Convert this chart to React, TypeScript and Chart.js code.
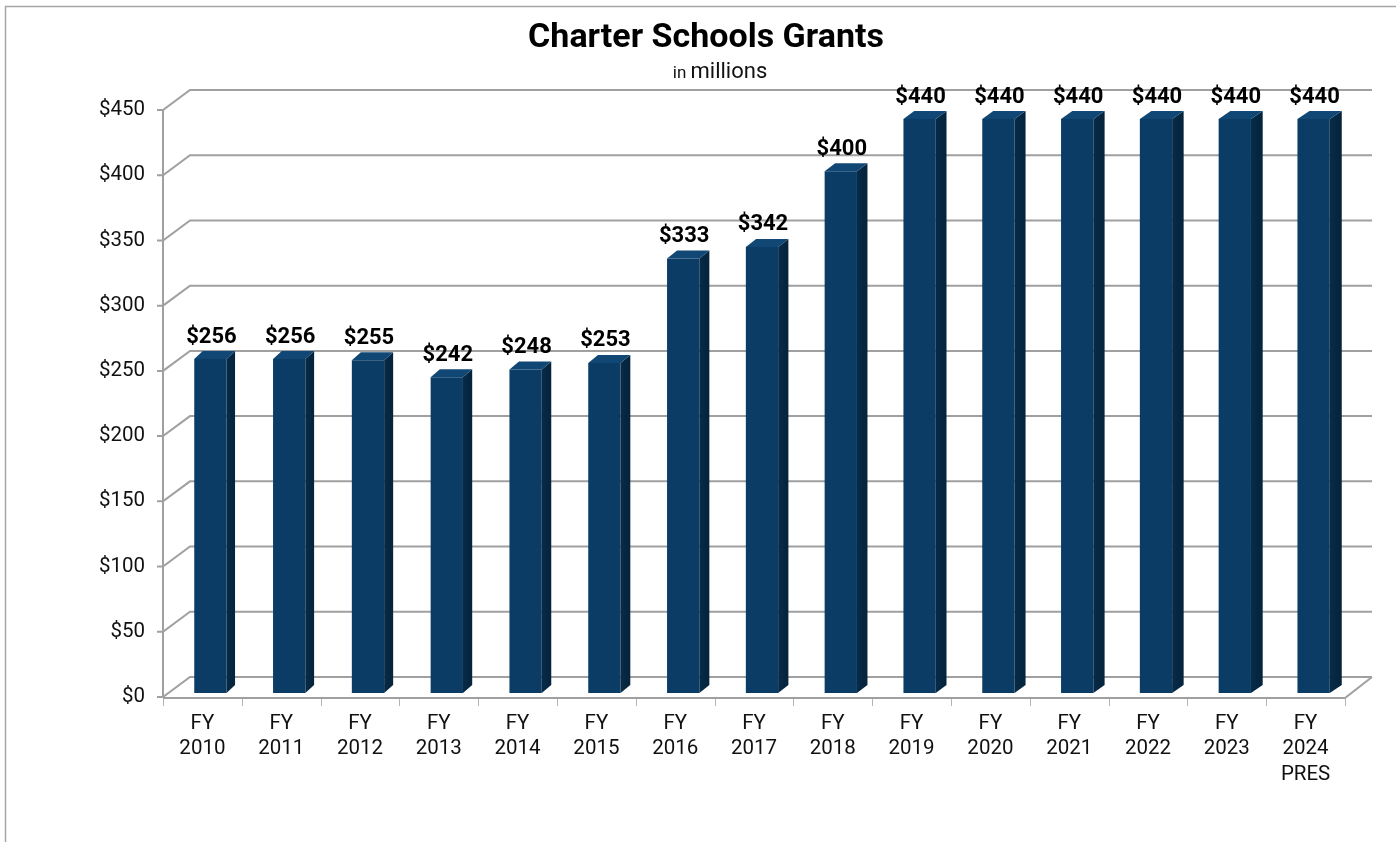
import React, { useEffect, useRef } from 'react';
import { Chart, registerables } from 'chart.js';

Chart.register(...registerables);

const categories: string[][] = [
  ['FY', '2010'], ['FY', '2011'], ['FY', '2012'], ['FY', '2013'], ['FY', '2014'],
  ['FY', '2015'], ['FY', '2016'], ['FY', '2017'], ['FY', '2018'], ['FY', '2019'],
  ['FY', '2020'], ['FY', '2021'], ['FY', '2022'], ['FY', '2023'], ['FY', '2024', 'PRES'],
];
const grants: number[] = [256, 256, 255, 242, 248, 253, 333, 342, 400, 440, 440, 440, 440, 440, 440];
const yTickValues: number[] = [0, 50, 100, 150, 200, 250, 300, 350, 400, 450];
const titleText = 'Charter Schools Grants';
const subtitleSmall = 'in';
const subtitleLarge = 'millions';

const W = 1396;
const H = 842;
const BACK_DX = 27;
const BACK_DY = -20;
const BAR_DX = 8;
const BAR_DY = -4;
const GRID = '#a0a0a0';
const FRONT = '#0b3c66';
const SIDE = '#05233b';
const TOP = '#104774';
const FONT = 'Roboto, "Liberation Sans", Arial, sans-serif';

function sideDx(i: number, n: number) {
  return 8.5 + (3.5 * i) / Math.max(1, n - 1);
}
const SIDE_DY = -8;

const threeD = {
  id: 'threeD',
  beforeDraw(chart: any) {
    const ctx = chart.ctx;
    ctx.save();
    ctx.fillStyle = '#ffffff';
    ctx.fillRect(0, 0, W, H);
    // frame
    ctx.strokeStyle = '#a6a6a6';
    ctx.lineWidth = 1.5;
    ctx.beginPath();
    ctx.moveTo(5.5, H);
    ctx.lineTo(5.5, 6.5);
    ctx.lineTo(W, 6.5);
    ctx.stroke();
    // title
    ctx.fillStyle = '#000000';
    ctx.textAlign = 'center';
    ctx.textBaseline = 'alphabetic';
    ctx.font = `bold 34px ${FONT}`;
    ctx.fillText(titleText, 706, 47);
    // subtitle
    ctx.font = `17px ${FONT}`;
    const wSmall = ctx.measureText(subtitleSmall + ' ').width;
    ctx.font = `22px ${FONT}`;
    const wLarge = ctx.measureText(subtitleLarge).width;
    const start = 720 - (wSmall + wLarge) / 2;
    ctx.textAlign = 'left';
    ctx.fillStyle = '#111111';
    ctx.font = `17px ${FONT}`;
    ctx.fillText(subtitleSmall, start, 78);
    ctx.font = `22px ${FONT}`;
    ctx.fillText(subtitleLarge, start + wSmall, 78);
    ctx.restore();
  },
  beforeDatasetsDraw(chart: any) {
    const ctx = chart.ctx;
    const { left, right, top, bottom } = chart.chartArea;
    const y = chart.scales.y;
    const x = chart.scales.x;
    ctx.save();
    ctx.strokeStyle = GRID;
    ctx.lineWidth = 2;
    ctx.lineCap = 'butt';
    ctx.beginPath();
    yTickValues.forEach((v) => {
      const yf = y.getPixelForValue(v);
      ctx.moveTo(left - 6, yf);
      ctx.lineTo(left, yf);
      ctx.lineTo(left + BACK_DX, yf + BACK_DY);
      ctx.lineTo(right + BACK_DX, yf + BACK_DY);
    });
    // front left vertical edge
    ctx.moveTo(left, top);
    ctx.lineTo(left, bottom);
    // floor front edge and right edge
    ctx.moveTo(left, bottom + 1);
    ctx.lineTo(right, bottom + 1);
    ctx.lineTo(right + BACK_DX, bottom + BACK_DY);
    ctx.stroke();
    // category tick marks
    ctx.lineWidth = 1;
    ctx.strokeStyle = '#b5b5b5';
    ctx.beginPath();
    const n = categories.length;
    const step = (right - left) / n;
    for (let k = 0; k <= n; k++) {
      const xx = Math.round(x.left + step * k) + 0.5;
      ctx.moveTo(xx, bottom + 2);
      ctx.lineTo(xx, bottom + 9);
    }
    ctx.stroke();
    ctx.restore();
    ctx.save();
    ctx.translate(BAR_DX, BAR_DY);
  },
  afterDatasetsDraw(chart: any) {
    const ctx = chart.ctx;
    const meta = chart.getDatasetMeta(0);
    const n = meta.data.length;
    meta.data.forEach((bar: any, i: number) => {
      const p = bar.getProps(['x', 'y', 'base', 'width'], true);
      const l = p.x - p.width / 2;
      const r = p.x + p.width / 2;
      const sdx = sideDx(i, n);
      // side face
      const g = ctx.createLinearGradient(r, 0, r + sdx, 0);
      g.addColorStop(0, '#072b48');
      g.addColorStop(1, SIDE);
      ctx.fillStyle = g;
      ctx.beginPath();
      ctx.moveTo(r, p.y);
      ctx.lineTo(r + sdx, p.y + SIDE_DY);
      ctx.lineTo(r + sdx, p.base + SIDE_DY);
      ctx.lineTo(r, p.base);
      ctx.closePath();
      ctx.fill();
      // top face
      ctx.fillStyle = TOP;
      ctx.beginPath();
      ctx.moveTo(l, p.y);
      ctx.lineTo(l + sdx, p.y + SIDE_DY);
      ctx.lineTo(r + sdx, p.y + SIDE_DY);
      ctx.lineTo(r, p.y);
      ctx.closePath();
      ctx.fill();
    });
    ctx.restore();
    // data labels
    ctx.save();
    ctx.fillStyle = '#000000';
    ctx.textAlign = 'center';
    ctx.textBaseline = 'middle';
    ctx.font = `bold 22px ${FONT}`;
    meta.data.forEach((bar: any, i: number) => {
      const p = bar.getProps(['x', 'y'], true);
      const v = chart.data.datasets[0].data[i];
      ctx.fillText('$' + v, p.x + BAR_DX + 1, p.y + BAR_DY + SIDE_DY - 14);
    });
    ctx.restore();
  },
};

export default function App() {
  const ref = useRef<HTMLCanvasElement | null>(null);
  useEffect(() => {
    if (!ref.current) return;
    const chart = new Chart(ref.current, {
      type: 'bar',
      data: {
        labels: categories,
        datasets: [
          {
            data: grants,
            backgroundColor: FRONT,
            borderWidth: 0,
            barPercentage: 0.41,
            categoryPercentage: 1,
          },
        ],
      },
      options: {
        responsive: false,
        animation: false,
        devicePixelRatio: 1,
        layout: { padding: { top: 110, right: 51, bottom: 0, left: 0 } },
        plugins: {
          legend: { display: false },
          title: { display: false },
          tooltip: { enabled: false },
        },
        scales: {
          x: {
            type: 'category',
            grid: { display: false, drawTicks: false },
            border: { display: false },
            ticks: {
              color: '#111111',
              font: { family: FONT, size: 20.5, lineHeight: 1.24 },
              padding: 14,
              maxRotation: 0,
              autoSkip: false,
            },
            afterFit: (s: any) => {
              s.height = 145;
            },
          },
          y: {
            min: 0,
            max: 450,
            grid: { display: false, drawTicks: false },
            border: { display: false },
            ticks: {
              stepSize: 50,
              color: '#111111',
              font: { family: FONT, size: 20.5 },
              padding: 18,
              callback: (v: any) => '$' + v,
            },
            afterFit: (s: any) => {
              s.width = 163;
            },
          },
        },
      },
      plugins: [threeD],
    } as any);
    return () => chart.destroy();
  }, []);
  return (
    <div style={{ position: 'absolute', left: 0, top: 0, width: W, height: H, background: '#fff' }}>
      <canvas ref={ref} width={W} height={H} style={{ display: 'block' }} />
    </div>
  );
}
